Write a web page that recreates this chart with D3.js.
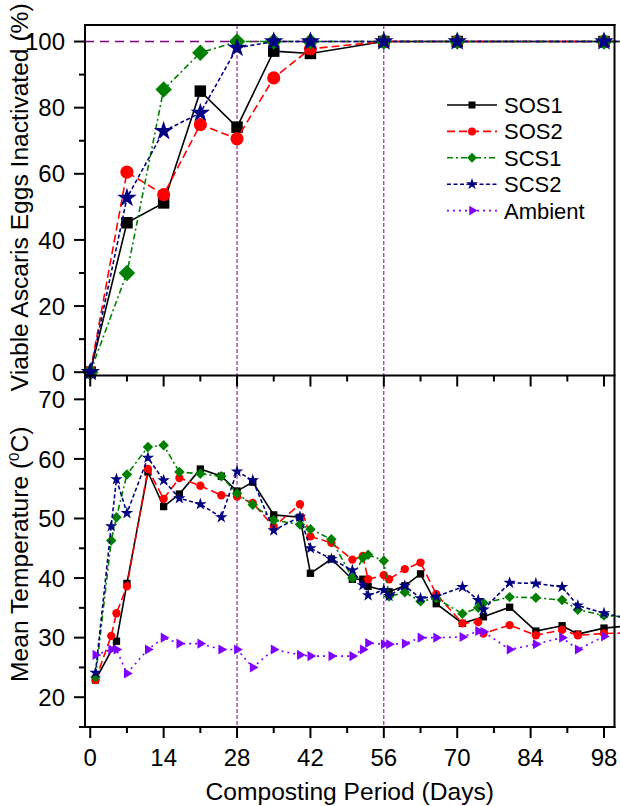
<!DOCTYPE html>
<html><head><meta charset="utf-8">
<script src="https://cdn.jsdelivr.net/npm/d3@7"></script>
<style>
body{margin:0;background:#fff}
svg{display:block}
text{font-family:"Liberation Sans", Arial, Helvetica, sans-serif;fill:#000}
</style>
</head><body>
<svg id="chart" width="620" height="806"></svg>
<script>
// ---------- DATA ----------
const seriesNames = ["SOS1", "SOS2", "SCS1", "SCS2", "Ambient"];

// Top panel: viable Ascaris eggs inactivated (%)
const inactDays = [0, 7, 14, 21, 28, 35, 42, 56, 70, 98, 104];
const inactSOS1 = [0, 45.2, 51.2, 85.0, 74.1, 97.1, 96.4, 100, 100, 100, 100];
const inactSOS2 = [0, 60.5, 53.7, 74.9, 70.6, 89.0, 97.8, 100, 100, 100, 100];
const inactSCS1 = [0, 30.0, 85.5, 96.6, 100, 100, 100, 100, 100, 100, 100];
const inactSCS2 = [0, 52.7, 72.9, 78.4, 98.1, 100, 100, 100, 100, 100, 100];

// Bottom panel: mean temperature (°C)
const tempDays = [1, 4, 5, 7, 11, 14, 17, 21, 25, 28, 31, 35, 40, 42, 46, 50, 52, 53, 56, 57, 60, 63, 66, 71, 74, 75, 80, 85, 90, 93, 98, 104];
const tempSOS1 = [22.9, null, 29.4, 39.1, 57.8, 52.0, 54.1, 58.3, 57.1, 54.6, 56.1, 50.6, 50.2, 40.8, 43.2, 39.8, 39.8, 38.6, null, 37.7, 38.7, 40.7, 35.7, 32.4, null, 33.5, 35.1, 31.1, 32.0, 30.6, 31.6, 32.1];
const tempSOS2 = [22.9, 30.3, 34.1, 38.6, 58.3, 53.3, 56.8, 55.5, 53.9, 53.7, 52.6, 48.6, 52.4, 47.0, 45.9, 43.1, 43.7, 39.8, 40.5, 39.8, 41.5, 42.6, 37.3, 32.4, 32.6, 30.7, 32.1, 30.4, 31.3, 30.4, 30.7, 30.8];
const tempSCS1 = [23.4, 46.3, 50.2, 57.4, 62.0, 62.3, 57.8, 57.5, 57.1, 54.2, 52.3, 49.7, 49.0, 48.2, 46.5, 40.0, 43.4, 43.9, 42.9, 36.9, 37.6, 36.1, 36.6, 34.0, 35.0, 35.8, 36.8, 36.7, 36.3, 34.7, 33.7, 33.4];
const tempSCS2 = [24.1, 48.7, 56.6, 50.9, 60.2, 56.4, 53.4, 52.4, 50.2, 57.9, 56.4, 48.0, 50.3, 45.0, 43.2, 41.3, 38.8, 37.1, 38.0, 37.0, 38.7, 36.6, 36.9, 38.5, 36.3, 34.7, 39.2, 39.1, 38.5, 35.4, 34.1, 32.9];
const tempAmbient = [27.1, 28.0, 28.0, 24.0, 28.0, 30.0, 29.0, 29.0, 28.0, 28.0, 25.0, 28.0, 27.1, 26.9, 26.9, 26.9, 28.0, 29.1, 28.9, 28.9, 29.0, 30.0, 30.0, 30.1, 31.1, 31.0, 28.0, 28.9, 30.0, 28.0, 30.2, null];

// Axis ticks / labels
const xMajorTicks = [0, 14, 28, 42, 56, 70, 84, 98];
const xMinorTicks = [7, 21, 35, 49, 63, 77, 91];
const topMajorTicks = [0, 20, 40, 60, 80, 100];
const topMinorTicks = [10, 30, 50, 70, 90];
const botMajorTicks = [20, 30, 40, 50, 60, 70];
const botMinorTicks = [15, 25, 35, 45, 55, 65];
const markerDays = [28, 56];
const completeLevel = [100];

// ---------- STYLES ----------
const style = {
  SOS1:    {color: "#000000", dash: null,        symbol: "square"},
  SOS2:    {color: "#ff0000", dash: "8,4",       symbol: "circle"},
  SCS1:    {color: "#008000", dash: "6,3,2,3",   symbol: "diamond"},
  SCS2:    {color: "#000080", dash: "4,2.5",     symbol: "star"},
  Ambient: {color: "#8000ff", dash: "2,4",       symbol: "triangle"}
};
const refColor = "#800080";

const svg = d3.select("#chart");
const L = 85, R = 614.5, T = 25, MID = 375.5, B = 727;

const x = d3.scaleLinear().domain([-1, 100]).range([L, R]);
const yTop = d3.scaleLinear().domain([-1, 105]).range([MID, T]);
const yBot = d3.scaleLinear().domain([15, 74]).range([B, MID]);

function symbolPath(kind, scale) {
  const sizes = {square: 49, circle: 50, diamond: 50, star: 44, triangle: 40};
  const types = {square: d3.symbolSquare, circle: d3.symbolCircle, diamond: d3.symbolSquare, star: d3.symbolStar, triangle: d3.symbolTriangle};
  return d3.symbol().type(types[kind]).size(sizes[kind] * scale)();
}
function symbolRotate(kind) {
  return kind === "diamond" ? 45 : (kind === "triangle" ? 90 : 0);
}

function drawSeries(g, days, vals, name, yScale, mscale) {
  const st = style[name];
  const pts = days.map((d, i) => ({d, v: vals[i]})).filter(p => p.v !== null);
  const line = d3.line().x(p => x(p.d)).y(p => yScale(p.v));
  g.append("path").datum(pts).attr("d", line)
    .attr("fill", "none").attr("stroke", st.color).attr("stroke-width", 1.6)
    .attr("stroke-dasharray", st.dash);
  g.selectAll(null).data(pts).enter().append("path")
    .attr("d", symbolPath(st.symbol, mscale))
    .attr("transform", p => `translate(${x(p.d)},${yScale(p.v)}) rotate(${symbolRotate(st.symbol)})`)
    .attr("fill", st.color);
}

// ---------- Reference lines ----------
svg.append("g").selectAll("line").data(completeLevel).enter().append("line")
  .attr("x1", L).attr("x2", R).attr("y1", d => yTop(d)).attr("y2", d => yTop(d))
  .attr("stroke", refColor).attr("stroke-width", 1.4).attr("stroke-dasharray", "9,6");
svg.append("g").selectAll("line").data(markerDays).enter().append("line")
  .attr("x1", d => x(d)).attr("x2", d => x(d)).attr("y1", T).attr("y2", B)
  .attr("stroke", refColor).attr("stroke-width", 1).attr("stroke-dasharray", "4,2");

// ---------- Top panel series ----------
const gTop = svg.append("g");
const inactVals = {SOS1: inactSOS1, SOS2: inactSOS2, SCS1: inactSCS1, SCS2: inactSCS2};
["SOS1", "SOS2", "SCS1", "SCS2"].forEach(n => drawSeries(gTop, inactDays, inactVals[n], n, yTop, 2.7));

// ---------- Bottom panel series ----------
const gBot = svg.append("g");
const tempVals = {SOS1: tempSOS1, SOS2: tempSOS2, SCS1: tempSCS1, SCS2: tempSCS2, Ambient: tempAmbient};
seriesNames.forEach(n => drawSeries(gBot, tempDays, tempVals[n], n, yBot, 1.1));

// ---------- Axes ----------
const axW = 2;
const fontTick = 24;
const gAx = svg.append("g").attr("stroke", "#000").attr("stroke-width", axW).attr("fill", "none");
// frame lines
gAx.append("line").attr("x1", L).attr("x2", L).attr("y1", T - 1).attr("y2", B + 1);
gAx.append("line").attr("x1", R).attr("x2", R).attr("y1", T - 1).attr("y2", B + 1);
gAx.append("line").attr("x1", L - 1).attr("x2", R + 1).attr("y1", T).attr("y2", T);
gAx.append("line").attr("x1", L - 1).attr("x2", R + 1).attr("y1", MID).attr("y2", MID);
gAx.append("line").attr("x1", L - 1).attr("x2", R + 1).attr("y1", B).attr("y2", B);

// x ticks on middle line and bottom line (pointing down)
[MID, B].forEach(yy => {
  gAx.selectAll(null).data(xMajorTicks).enter().append("line")
    .attr("x1", d => x(d)).attr("x2", d => x(d)).attr("y1", yy).attr("y2", yy + 11);
  gAx.selectAll(null).data(xMinorTicks).enter().append("line")
    .attr("x1", d => x(d)).attr("x2", d => x(d)).attr("y1", yy).attr("y2", yy + 6);
});
// y ticks
function yTicks(scale, major, minor) {
  gAx.selectAll(null).data(major).enter().append("line")
    .attr("x1", L - 11).attr("x2", L).attr("y1", d => scale(d)).attr("y2", d => scale(d));
  gAx.selectAll(null).data(minor).enter().append("line")
    .attr("x1", L - 6).attr("x2", L).attr("y1", d => scale(d)).attr("y2", d => scale(d));
  svg.append("g").selectAll("text").data(major).enter().append("text")
    .attr("x", L - 20).attr("y", d => scale(d) + 8.6)
    .attr("text-anchor", "end").attr("font-size", fontTick).text(d => d);
}
yTicks(yTop, topMajorTicks, topMinorTicks);
yTicks(yBot, botMajorTicks, botMinorTicks);

svg.append("g").selectAll("text").data(xMajorTicks).enter().append("text")
  .attr("x", d => x(d)).attr("y", B + 39)
  .attr("text-anchor", "middle").attr("font-size", fontTick).text(d => d);

// Titles
svg.append("text").attr("x", (L + R) / 2).attr("y", 800).attr("text-anchor", "middle")
  .attr("font-size", 24.6).text("Composting Period (Days)");
svg.append("text").attr("transform", `translate(28,${(T + MID) / 2 - 3}) rotate(-90)`)
  .attr("text-anchor", "middle").attr("font-size", 24.6).text("Viable Ascaris Eggs Inactivated (%)");
const tt = svg.append("text").attr("transform", `translate(28,${(MID + B) / 2 + 3}) rotate(-90)`)
  .attr("text-anchor", "middle").attr("font-size", 24.6);
tt.append("tspan").text("Mean Temperature (");
tt.append("tspan").attr("font-size", 15).attr("dy", -9).text("0");
tt.append("tspan").attr("dy", 9).text("C)");

// ---------- Legend ----------
const lg = svg.append("g");
const legX0 = 447, legX1 = 497, legTextX = 504, legY0 = 105, legDy = 26.4;
seriesNames.forEach((n, i) => {
  const st = style[n];
  const yy = legY0 + i * legDy;
  lg.append("line").attr("x1", legX0).attr("x2", legX1).attr("y1", yy).attr("y2", yy)
    .attr("stroke", st.color).attr("stroke-width", 1.6).attr("stroke-dasharray", st.dash);
  lg.append("path").attr("d", symbolPath(st.symbol, 1.0))
    .attr("transform", `translate(${(legX0 + legX1) / 2},${yy}) rotate(${symbolRotate(st.symbol)})`)
    .attr("fill", st.color);
  lg.append("text").attr("x", legTextX).attr("y", yy + 8).attr("font-size", 22).text(n);
});
</script>
</body></html>
